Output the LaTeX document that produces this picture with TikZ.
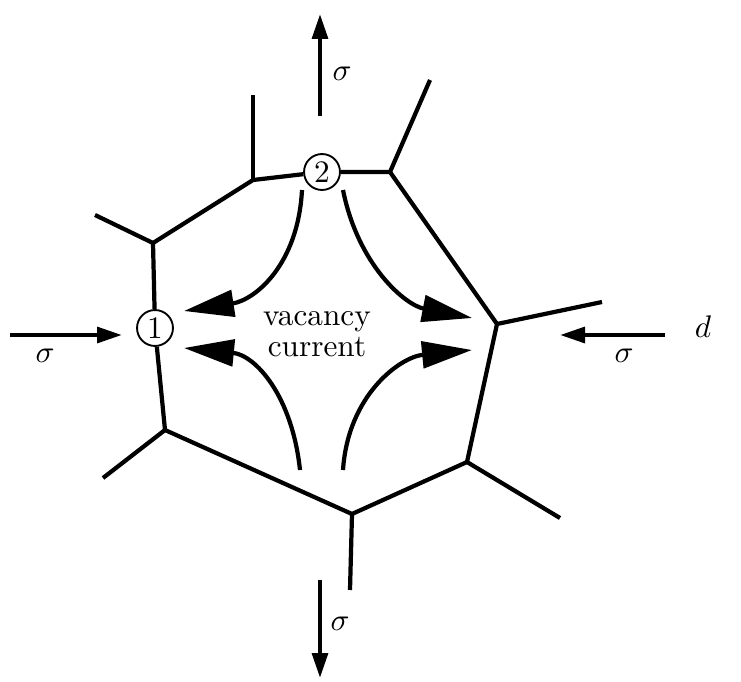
\documentclass[tikz,border=0pt]{standalone}
\usepackage{amsmath}
\usetikzlibrary{arrows.meta}

\begin{document}
\begin{tikzpicture}[x=0.32pt, y=-0.32pt,
  wall/.style={line width=1.35pt, line join=round},
  grain/.style={circle, draw, fill=white, line width=0.6pt, inner sep=0pt, minimum size=11.5pt},
  flux/.style={line width=1.35pt, -{Triangle[length=16pt,width=8.5pt]}},
  load/.style={line width=1.35pt, -{Triangle[length=8pt,width=5pt]}}]
  \useasboundingbox (0,0) rectangle (741,682);

  % cell vertices
  \coordinate (va) at (253,180);
  \coordinate (vb) at (390,172);
  \coordinate (vc) at (153,243);
  \coordinate (vd) at (165,430);
  \coordinate (ve) at (352,514);
  \coordinate (vf) at (467,462);
  \coordinate (vg) at (497,324);
  \node[grain] (n1) at (155,328) {1};
  \node[grain] (n2) at (322,172) {2};

  % neighbouring walls
  \coordinate (sa) at (253,95);
  \coordinate (sb) at (430,80);
  \coordinate (sc) at (95,215);
  \coordinate (sd) at (103,478);
  \coordinate (se) at (350,590);
  \coordinate (sf) at (560,518);
  \coordinate (sg) at (602,302);

  % cell boundary
  \draw[wall] (n2) -- (vb) -- (vg) -- (vf) -- (ve) -- (vd) -- (n1);
  \draw[wall] (n1) -- (vc) -- (va) -- (n2);
  \foreach \v/\s in {va/sa, vb/sb, vc/sc, vd/sd, ve/se, vf/sf, vg/sg}
    \draw[wall] (\v) -- (\s);

  % applied stress
  \coordinate (lw) at (10,335);   \coordinate (lwt) at (122,335);
  \coordinate (le) at (665,335);  \coordinate (let) at (560,335);
  \coordinate (lt) at (320,116);  \coordinate (ltt) at (320,14);
  \coordinate (lb) at (320,580);  \coordinate (lbt) at (320,678);
  \draw[load] (lw) -- (lwt);
  \draw[load] (le) -- (let);
  \draw[load] (lt) -- (ltt);
  \draw[load] (lb) -- (lbt);
  \node (sw) at (45,356) {$\sigma$};
  \node (se2) at (624,356) {$\sigma$};
  \node (st) at (342,74) {$\sigma$};
  \node (sb2) at (340,624) {$\sigma$};
  \node (dl) at (703,327) {$d$};

  % vacancy current
  \node[align=center] (vac) at (317,334) {vacancy\\[-2pt]current};
  \coordinate (c1) at (302,190);  \coordinate (c1t) at (184,311);
  \coordinate (c2) at (343,190);  \coordinate (c2t) at (472,318);
  \coordinate (c3) at (300,470);  \coordinate (c3t) at (184,348);
  \coordinate (c4) at (343,470);  \coordinate (c4t) at (472,350);
  \draw[flux] (c1) .. controls (298,265) and (255,300) .. (c1t);
  \draw[flux] (c2) .. controls (358,265) and (405,305) .. (c2t);
  \draw[flux] (c3) .. controls (292,395) and (255,355) .. (c3t);
  \draw[flux] (c4) .. controls (348,395) and (400,357) .. (c4t);
\end{tikzpicture}
\end{document}
